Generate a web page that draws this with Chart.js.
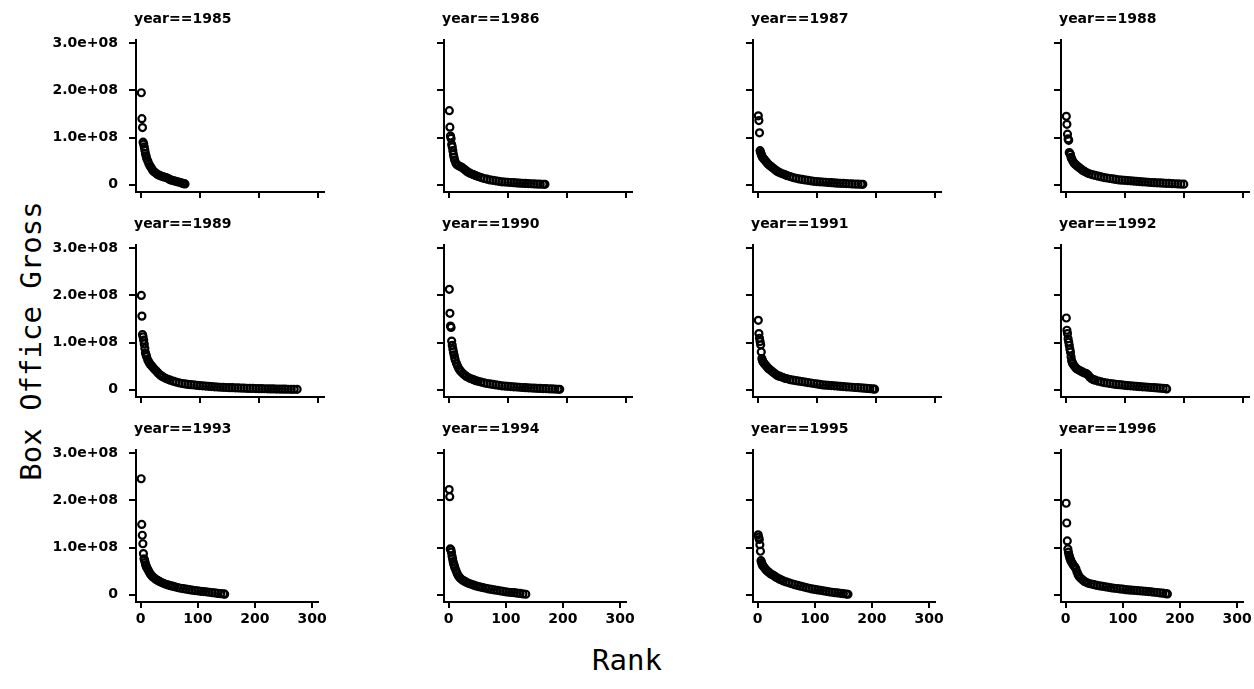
<!DOCTYPE html>
<html>
<head>
<meta charset="utf-8">
<script src="https://cdn.jsdelivr.net/npm/chart.js@4.4.0/dist/chart.umd.min.js"></script>
<style>
  body { margin: 0; background: #fff; }
  #wrap { position: relative; width: 1254px; height: 689px; overflow: hidden; background: #fff; }
  #wrap canvas { position: absolute; }
  .axis-title { position: absolute; font-family: 'DejaVu Sans Mono', monospace; font-size: 29px; line-height: 1; color: #000; white-space: nowrap; }
  #ytitle { left: 31px; top: 341px; transform: translate(-50%, -50%) rotate(-90deg); }
  #xtitle { left: 627px; top: 660px; transform: translate(-50%, -50%); }
</style>
</head>
<body>
<div id="wrap">
  <div class="axis-title" id="ytitle">Box Office Gross</div>
  <div class="axis-title" id="xtitle">Rank</div>
</div>
<script>
// ticks (gross in $ millions)
const xTicks = [0, 100, 200, 300];
const yTicks = [0, 100, 200, 300];
const yTickLabels = ['0', '1.0e+08', '2.0e+08', '3.0e+08'];

const years = [1985, 1986, 1987, 1988, 1989, 1990, 1991, 1992, 1993, 1994, 1995, 1996];

// [rank, gross $M]
const gross1985 = [[1,195],[2,140],[3,121],[4,90],[5,86],[6,80],[7,73],[8,66],[9,61],[10,56],[12,50],[14,44],[16,39],[18,35],[20,31],[22,28],[25,25],[28,22],[31,20],[34,18.5],[37,17],[40,16],[43,15],[46,13.5],[49,11],[52,9.5],[55,8.5],[58,7.5],[61,6.5],[64,5.5],[67,4.5],[70,3],[73,2],[75,1.5]];
const gross1986 = [[1,157],[2,122],[3,103],[4,98],[5,85],[6,80],[7,72],[8,64],[9,58],[10,52],[12,46],[14,42],[17,40],[20,38],[23,36],[26,33],[29,30],[32,27],[35,25],[38,23],[42,21],[46,19],[50,17],[55,15],[60,13],[65,11.5],[70,10],[75,9],[80,8],[85,7],[90,6],[95,5.5],[100,5],[105,4.5],[110,4],[115,3.5],[120,3],[125,2.7],[130,2.4],[135,2.1],[140,1.8],[145,1.5],[150,1.2],[155,1],[160,0.8],[163,0.6]];
const gross1987 = [[1,146],[2,136],[3,110],[4,72],[5,68],[6,64],[7,61],[8,58],[10,55],[12,52],[14,49],[16,46],[18,43],[20,41],[23,38],[26,35],[29,32],[32,29],[35,27],[38,25],[42,23],[46,21],[50,19],[55,17],[60,15],[65,13.5],[70,12],[75,11],[80,10],[85,9],[90,8],[95,7],[100,6.5],[105,6],[110,5.5],[115,5],[120,4.5],[125,4],[130,3.5],[135,3],[140,2.7],[145,2.4],[150,2.1],[155,1.8],[160,1.5],[165,1.2],[170,1],[175,0.8],[178,0.6]];
const gross1988 = [[1,145],[2,128],[3,107],[4,97],[5,94],[6,68],[7,66],[8,64],[9,58],[10,55],[12,50],[14,46],[16,43],[18,41],[20,39],[23,36],[26,33],[29,30],[32,28],[36,25],[40,23],[45,21],[50,19.5],[55,18],[60,16.5],[65,15],[70,14],[75,13],[80,12],[85,11],[90,10],[95,9.5],[100,9],[105,8.5],[110,8],[115,7.5],[120,7],[125,6.5],[130,6],[135,5.5],[140,5],[145,4.5],[150,4.2],[155,3.8],[160,3.5],[165,3],[170,2.7],[175,2.4],[180,2.1],[185,1.8],[190,1.5],[195,1.2],[200,1]];
const gross1989 = [[1,200],[2,156],[3,117],[4,112],[5,105],[6,97],[7,88],[8,78],[9,74],[10,70],[12,63],[14,58],[16,54],[18,51],[20,48],[23,44],[26,40],[29,36],[32,32],[35,29],[38,27],[42,24],[46,22],[50,20],[55,18],[60,16],[65,14.5],[70,13],[75,12],[80,11],[85,10.5],[90,10],[95,9],[100,8.5],[105,8],[110,7.5],[115,7],[120,6.5],[125,6],[130,5.5],[135,5],[140,4.8],[145,4.5],[150,4.2],[155,4],[160,3.7],[165,3.5],[170,3.2],[175,3],[180,2.8],[185,2.6],[190,2.4],[195,2.2],[200,2],[205,1.9],[210,1.8],[215,1.6],[220,1.5],[225,1.4],[230,1.2],[235,1.1],[240,1],[245,0.9],[250,0.8],[255,0.7],[260,0.6],[265,0.5]];
const gross1990 = [[1,213],[2,162],[3,135],[4,132],[5,103],[6,94],[7,86],[8,80],[9,74],[10,68],[11,63],[13,56],[15,50],[17,45],[19,41],[21,38],[24,34],[27,31],[30,28],[34,25],[38,23],[42,21],[46,19],[50,17.5],[55,16],[60,14.5],[65,13],[70,12],[75,11],[80,10],[85,9],[90,8],[95,7.5],[100,7],[105,6.5],[110,6],[115,5.5],[120,5],[125,4.5],[130,4],[135,3.7],[140,3.4],[145,3.1],[150,2.8],[155,2.5],[160,2.2],[165,2],[170,1.7],[175,1.4],[180,1.1],[185,0.8],[188,0.6]];
const gross1991 = [[1,147],[2,119],[3,109],[4,102],[5,95],[6,80],[7,66],[8,62],[9,59],[10,57],[12,54],[14,51],[16,48],[18,45],[20,43],[23,40],[26,37],[29,34],[32,31],[35,29],[38,28],[42,26],[46,24],[50,23],[55,21],[60,20],[65,19],[70,18],[75,17],[80,16],[85,15],[90,14],[95,13],[100,12],[105,11],[110,10],[115,9.5],[120,9],[125,8.5],[130,8],[135,7.5],[140,7],[145,6.5],[150,6],[155,5.5],[160,5],[165,4.5],[170,4],[175,3.5],[180,3],[185,2.5],[190,2],[195,1.5],[198,1]];
const gross1992 = [[1,152],[2,126],[3,119],[4,108],[5,101],[6,94],[7,86],[8,80],[9,70],[10,62],[11,58],[12,55],[14,51],[16,48],[18,45],[20,43],[23,41],[26,39],[29,37],[32,35],[35,34],[38,31],[41,26],[44,23],[47,21],[50,20],[55,18],[60,16.5],[65,15],[70,14],[75,13],[80,12],[85,11],[90,10.5],[95,10],[100,9],[105,8.5],[110,8],[115,7.5],[120,7],[125,6.5],[130,6],[135,5.5],[140,5],[145,4.5],[150,4],[155,3.5],[160,3],[165,2.5],[170,2],[171,1.5]];
const gross1993 = [[1,246],[2,149],[3,126],[4,108],[5,87],[6,76],[7,73],[8,68],[9,63],[10,60],[11,57],[13,53],[15,48],[17,44],[19,41],[21,38],[24,35],[27,32],[30,30],[33,28],[36,26],[40,24],[44,22],[48,20.5],[52,19],[56,18],[60,16.5],[65,15],[70,13.5],[75,12.5],[80,11.5],[85,10.5],[90,9.5],[95,8.5],[100,8],[105,7],[110,6.5],[115,6],[120,5],[125,4],[130,3.5],[135,2.5],[140,2],[145,1.5],[147,1]];
const gross1994 = [[1,223],[2,208],[3,97],[4,95],[5,90],[6,82],[7,76],[8,70],[9,65],[10,61],[11,57],[13,51],[15,45],[17,40],[19,37],[21,34],[24,31],[27,29],[30,27],[33,25],[36,23.5],[40,22],[44,20],[48,18.5],[52,17],[56,16],[60,15],[65,13.5],[70,12],[75,11],[80,10],[85,9],[90,8],[95,7],[100,6],[105,5],[110,4.5],[115,4],[120,3],[125,2.5],[130,1.5],[135,0.8]];
const gross1995 = [[1,127],[2,122],[3,117],[4,106],[5,92],[6,72],[7,68],[8,64],[9,62],[10,60],[12,57],[14,54],[16,51],[18,49],[20,47],[23,44],[26,42],[29,40],[32,37],[35,35],[38,33],[41,31.5],[45,29],[50,27],[55,25],[60,23],[65,21],[70,19.5],[75,18],[80,16.5],[85,15],[90,13.5],[95,12],[100,11],[105,10],[110,9],[115,8],[120,7],[125,6],[130,5],[135,4.2],[140,3.5],[145,2.8],[150,2],[155,1.2],[158,0.8]];
const gross1996 = [[1,194],[2,152],[3,114],[4,97],[5,90],[6,84],[7,80],[8,76],[9,73],[10,70],[12,66],[14,62],[16,59],[18,55],[20,48],[22,42],[24,38],[27,34],[30,31],[33,28],[36,26],[40,24],[45,22.5],[50,21],[55,19.5],[60,18.5],[65,17.5],[70,16.5],[75,15.5],[80,14.5],[85,13.5],[90,13],[95,12],[100,11.5],[105,10.5],[110,10],[115,9.5],[120,9],[125,8.5],[130,8],[135,7.5],[140,7],[145,6.5],[150,6],[155,5],[160,4.5],[165,3.5],[170,3],[175,2],[178,1.5]];

const grossByYear = [gross1985, gross1986, gross1987, gross1988, gross1989, gross1990,
                     gross1991, gross1992, gross1993, gross1994, gross1995, gross1996];

// panel title drawn just above the y axis
const titlePlugin = {
  id: 'panelTitle',
  afterDraw(chart, args, opts) {
    const { ctx, chartArea } = chart;
    ctx.save();
    ctx.font = 'bold 14px "DejaVu Sans"';
    ctx.fillStyle = '#000';
    ctx.textBaseline = 'alphabetic';
    ctx.fillText(opts.text, chartArea.left - 2, chartArea.top - 17);
    ctx.restore();
  }
};

const tickFont = { family: 'DejaVu Sans', size: 14, weight: 'bold' };
const wrap = document.getElementById('wrap');

years.forEach((year, i) => {
  const col = i % 4, row = Math.floor(i / 4);
  const axisX = Math.round(136 + 308.4 * col);
  const top = 40 + 205 * row;
  const showY = col === 0, showX = row === 2;

  const canvas = document.createElement('canvas');
  canvas.width = 294;
  canvas.height = 227;
  canvas.style.left = (axisX - 100) + 'px';
  canvas.style.top = (top - 35) + 'px';
  wrap.appendChild(canvas);

  new Chart(canvas, {
    type: 'scatter',
    data: {
      datasets: [{
        data: grossByYear[i].map(([r, g]) => ({ x: r, y: g })),
        pointRadius: 3.5,
        pointHoverRadius: 3.5,
        pointBorderWidth: 2.2,
        borderColor: '#000',
        backgroundColor: 'rgba(0,0,0,0)'
      }]
    },
    options: {
      responsive: false,
      animation: false,
      events: [],
      layout: { padding: { top: 35, left: 0, right: 0, bottom: 0 } },
      plugins: {
        legend: { display: false },
        tooltip: { enabled: false },
        panelTitle: { text: 'year==' + year }
      },
      scales: {
        x: {
          type: 'linear', min: -8, max: 311,
          afterBuildTicks: s => { s.ticks = xTicks.map(v => ({ value: v })); },
          afterFit: s => { s.height = 40; },
          border: { display: true, color: '#000', width: 2 },
          grid: { drawOnChartArea: false, drawTicks: true, tickLength: 6, color: '#000', lineWidth: 2 },
          ticks: { color: '#000', font: tickFont, padding: 3, maxRotation: 0, autoSkip: false,
                   callback: v => showX ? String(v) : '' }
        },
        y: {
          type: 'linear', min: -15.7, max: 307,
          afterBuildTicks: s => { s.ticks = yTicks.map(v => ({ value: v })); },
          afterFit: s => { s.width = 100; },
          border: { display: true, color: '#000', width: 2 },
          grid: { drawOnChartArea: false, drawTicks: true, tickLength: 7, color: '#000', lineWidth: 2 },
          ticks: { color: '#000', font: tickFont, padding: 11, autoSkip: false,
                   callback: v => showY ? yTickLabels[yTicks.indexOf(v)] : '' }
        }
      }
    },
    plugins: [titlePlugin]
  });
});
</script>
</body>
</html>
